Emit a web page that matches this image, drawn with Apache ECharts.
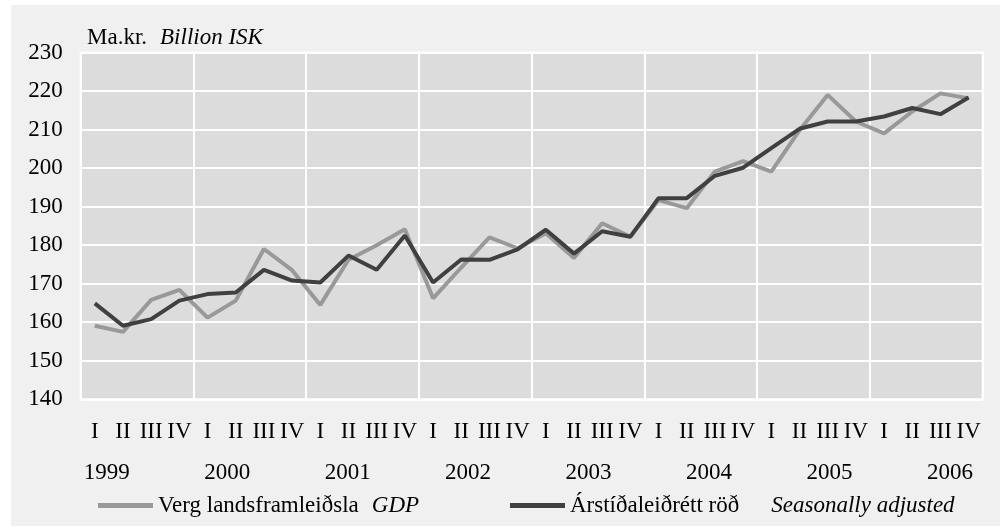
<!DOCTYPE html>
<html><head><meta charset="utf-8">
<script src="https://cdn.jsdelivr.net/npm/echarts@6/dist/echarts.min.js"></script>
<style>
html,body{margin:0;padding:0;background:#fff;}
#bg{position:absolute;left:11px;top:5px;width:989px;height:521px;background:#f0f0f0;}
#c{position:absolute;left:0;top:0;width:1000px;height:527px;}
</style>
</head><body><div id="bg"></div><div id="c"></div>
<script>
// ---- data ----
const years = ['1999','2000','2001','2002','2003','2004','2005','2006'];
const quarterNames = ['I','II','III','IV'];
const gdp = [159.1,157.5,165.8,168.4, 161.2,165.6,179.0,173.5, 164.5,176.2,180.0,184.1, 166.2,174.2,182.0,179.2,
             183.1,176.7,185.7,182.2, 191.7,189.6,199.1,201.8, 199.1,209.8,219.0,212.1, 209.0,214.7,219.4,218.1];
const seasAdj = [164.9,159.1,160.8,165.6, 167.3,167.7,173.6,170.8, 170.3,177.3,173.6,182.5, 170.3,176.3,176.2,178.9,
                 184.0,177.8,183.6,182.2, 192.2,192.2,198.0,200.1, 205.2,210.2,212.1,212.1, 213.4,215.6,214.0,218.3];
const seriesNames = ['Verg landsframleiðsla','Árstíðaleiðrétt röð'];
const seriesNamesEn = ['GDP','Seasonally adjusted'];
const unitIs = 'Ma.kr.';
const unitEn = 'Billion ISK';
const yMin = 140, yMax = 230, yStep = 10;

// ---- build ----
const categories = [];
years.forEach(y => quarterNames.forEach(q => categories.push(y + ' ' + q)));
const FONT = "'Liberation Serif', serif";
const FS = 23;
const txt = (extra) => Object.assign({fontFamily:FONT, fontSize:FS, color:'#000', fontWeight:'normal'}, extra || {});

const chart = echarts.init(document.getElementById('c'), null, {renderer:'canvas'});
chart.setOption({
  animation:false,
  backgroundColor:'transparent',
  title:{
    left:82, top:21,
    text:'{a|' + unitIs + '}{b|' + unitEn + '}',
    textStyle:txt({rich:{
      a:txt(),
      b:txt({fontStyle:'italic', padding:[0,0,0,13]})
    }})
  },
  legend:[
    {data:[seriesNames[0]], left:93, top:489, icon:'rect', itemWidth:55, itemHeight:5,
     formatter:n => '{a|' + n + '}{b|' + seriesNamesEn[0] + '}',
     textStyle:txt({rich:{a:txt(), b:txt({fontStyle:'italic', padding:[0,0,0,13]})}})},
    {data:[seriesNames[1]], left:505, top:489, icon:'rect', itemWidth:55, itemHeight:5,
     formatter:n => '{a|' + n + '}{b|' + seriesNamesEn[1] + '}',
     textStyle:txt({rich:{a:txt(), b:txt({fontStyle:'italic', padding:[0,0,0,32]})}})}
  ],
  grid:[
    {left:80.7, right:17.3, top:52.5, bottom:127.7, show:true, backgroundColor:'#dcdcdc', borderColor:'#ffffff', borderWidth:2},
    {left:106.7, right:50, top:52.5, bottom:127.7, show:false}
  ],
  xAxis:[
    {type:'category', gridIndex:0, data:categories, boundaryGap:true,
     axisLine:{show:false}, axisTick:{show:false},
     axisLabel:txt({interval:0, margin:21, formatter:v => v.split(' ')[1]}),
     splitLine:{show:true, interval:(i)=> i % 4 === 0, lineStyle:{color:'#ffffff', width:2}}},
    {type:'category', gridIndex:1, data:years, boundaryGap:false,
     axisLine:{show:false}, axisTick:{show:false}, splitLine:{show:false},
     axisLabel:txt({interval:0, margin:62})}
  ],
  yAxis:[
    {type:'value', gridIndex:0, min:yMin, max:yMax, interval:yStep,
     axisLine:{show:false}, axisTick:{show:false},
     axisLabel:txt({margin:18}),
     splitLine:{show:true, lineStyle:{color:'#ffffff', width:2}}},
    {type:'value', gridIndex:1, show:false, min:0, max:1}
  ],
  series:[
    {name:seriesNames[0], type:'line', xAxisIndex:0, yAxisIndex:0, data:gdp, symbol:'none',
     color:'#999999', lineStyle:{color:'#999999', width:4}, z:2},
    {name:seriesNames[1], type:'line', xAxisIndex:0, yAxisIndex:0, data:seasAdj, symbol:'none',
     color:'#404040', lineStyle:{color:'#404040', width:4}, z:3}
  ]
});
</script>
</body></html>
